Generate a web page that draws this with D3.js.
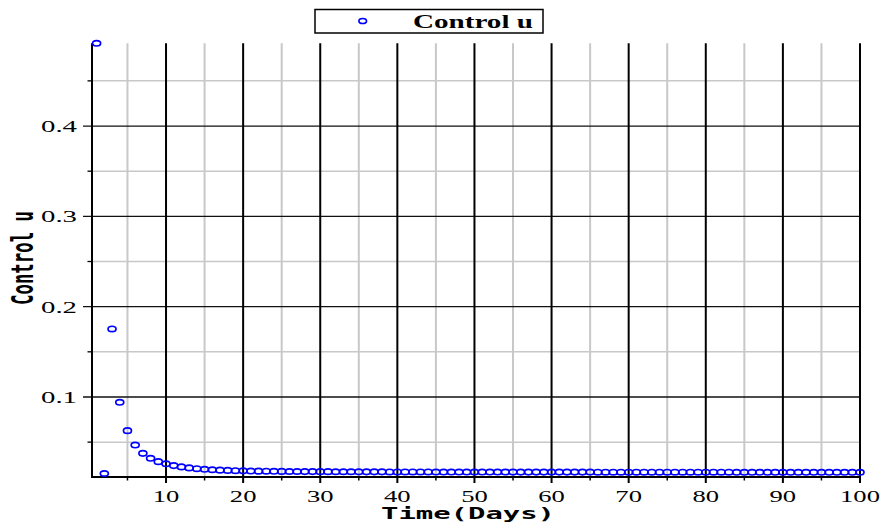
<!DOCTYPE html>
<html>
<head>
<meta charset="utf-8">
<script src="https://cdn.jsdelivr.net/npm/d3@7"></script>
<style>
  html, body { margin: 0; padding: 0; background: #fff; }
  svg { display: block; }
</style>
</head>
<body>
<svg id="chart" width="884" height="523"></svg>
<script>
// ---- data ----
const days = d3.range(1, 101);
const controlU = [
  0.4916, 0.0153, 0.1753, 0.0941, 0.0627, 0.0468, 0.0376, 0.0321, 0.0284, 0.0260,
  0.0240, 0.0226, 0.0215, 0.0206, 0.0199, 0.0194, 0.0190, 0.0187, 0.0184, 0.0182,
  0.0180, 0.0179, 0.0178, 0.0177, 0.0176, 0.0175, 0.0175, 0.0174, 0.0174, 0.0173,
  0.0173, 0.0172, 0.0172, 0.0172, 0.0171, 0.0171, 0.0171, 0.0171, 0.0170, 0.0170,
  0.0170, 0.0170, 0.0170, 0.0170, 0.0169, 0.0169, 0.0169, 0.0169, 0.0169, 0.0169,
  0.0169, 0.0169, 0.0169, 0.0169, 0.0168, 0.0168, 0.0168, 0.0168, 0.0168, 0.0168,
  0.0168, 0.0168, 0.0168, 0.0168, 0.0168, 0.0167, 0.0167, 0.0167, 0.0167, 0.0167,
  0.0167, 0.0167, 0.0167, 0.0167, 0.0167, 0.0167, 0.0167, 0.0167, 0.0167, 0.0167,
  0.0167, 0.0167, 0.0167, 0.0166, 0.0166, 0.0166, 0.0166, 0.0166, 0.0166, 0.0166,
  0.0166, 0.0166, 0.0166, 0.0166, 0.0166, 0.0166, 0.0166, 0.0166, 0.0166, 0.0166
];
const xMajorTicks = [10, 20, 30, 40, 50, 60, 70, 80, 90, 100];
const xMinorTicks = [5, 15, 25, 35, 45, 55, 65, 75, 85, 95];
const yMajorTicks = [0.1, 0.2, 0.3, 0.4];
const yMinorTicks = [0.05, 0.15, 0.25, 0.35, 0.45];
const seriesName = "Control u";
const xTitle = "Time(Days)";
const yTitle = "Control u";

// ---- layout ----
const svg = d3.select("#chart");
const pL = 92, pR = 860, pT = 43.3, pB = 477;
const x = d3.scaleLinear().domain([0.4, 100]).range([pL, pR]);
const y = d3.scaleLinear().domain([0.0114, 0.4916]).range([pB, pT]);
const blue = "#0000ff";
const grey = "#c8c8c8";

// minor vertical grid
svg.append("g").selectAll("line").data(xMinorTicks).join("line")
  .attr("x1", d => x(d)).attr("x2", d => x(d))
  .attr("y1", pT).attr("y2", pB)
  .attr("stroke", grey).attr("stroke-width", 2);
// minor horizontal grid
svg.append("g").selectAll("line").data(yMinorTicks).join("line")
  .attr("x1", pL).attr("x2", pR)
  .attr("y1", d => y(d)).attr("y2", d => y(d))
  .attr("stroke", grey).attr("stroke-width", 1.5);
// major horizontal grid
svg.append("g").selectAll("line").data(yMajorTicks).join("line")
  .attr("x1", pL - 9).attr("x2", pR)
  .attr("y1", d => y(d)).attr("y2", d => y(d))
  .attr("stroke", "#111").attr("stroke-width", 1.3);
// major vertical grid
svg.append("g").selectAll("line").data(xMajorTicks).join("line")
  .attr("x1", d => x(d)).attr("x2", d => x(d))
  .attr("y1", pT).attr("y2", pB + 6)
  .attr("stroke", "#000").attr("stroke-width", 2);

// minor ticks
svg.append("g").selectAll("line").data(yMinorTicks).join("line")
  .attr("x1", pL - 4.5).attr("x2", pL)
  .attr("y1", d => y(d)).attr("y2", d => y(d))
  .attr("stroke", "#000").attr("stroke-width", 1.3);
svg.append("g").selectAll("line").data(xMinorTicks).join("line")
  .attr("x1", d => x(d)).attr("x2", d => x(d))
  .attr("y1", pB).attr("y2", pB + 3.5)
  .attr("stroke", "#000").attr("stroke-width", 1.5);

// axes lines
svg.append("line").attr("x1", pL).attr("x2", pL).attr("y1", pT).attr("y2", pB + 1)
  .attr("stroke", "#000").attr("stroke-width", 2);
svg.append("line").attr("x1", pL - 1).attr("x2", pR + 1).attr("y1", pB).attr("y2", pB)
  .attr("stroke", "#000").attr("stroke-width", 2);

// tick labels
svg.append("g").selectAll("text").data(yMajorTicks).join("text")
  .attr("x", 77).attr("y", d => y(d) + 6)
  .attr("text-anchor", "end")
  .attr("font-family", "Liberation Serif, Times New Roman, serif")
  .attr("font-size", 17.5)
  .attr("textLength", 36).attr("lengthAdjust", "spacingAndGlyphs")
  .text(d => d3.format(".1f")(d));
svg.append("g").selectAll("text").data(xMajorTicks).join("text")
  .attr("x", d => x(d)).attr("y", 501.5)
  .attr("text-anchor", "middle")
  .attr("font-family", "Liberation Serif, Times New Roman, serif")
  .attr("font-size", 17.5)
  .attr("textLength", d => String(d).length * 13.3).attr("lengthAdjust", "spacingAndGlyphs")
  .text(d => d);

// axis titles
svg.append("text")
  .attr("x", 468).attr("y", 519)
  .attr("text-anchor", "middle")
  .attr("font-family", "DejaVu Sans Mono, monospace")
  .attr("font-weight", "bold")
  .attr("font-size", 16)
  .attr("textLength", 174).attr("lengthAdjust", "spacingAndGlyphs")
  .text(xTitle);
svg.append("text")
  .attr("transform", "translate(33,258) rotate(-90) scale(1,1.8)")
  .attr("text-anchor", "middle")
  .attr("font-family", "DejaVu Sans Mono, monospace")
  .attr("font-weight", "bold")
  .attr("font-size", 17)
  .attr("textLength", 94).attr("lengthAdjust", "spacingAndGlyphs")
  .text(yTitle);

// points
svg.append("g").selectAll("ellipse").data(days).join("ellipse")
  .attr("cx", (d) => x(d)).attr("cy", (d, i) => y(controlU[i]))
  .attr("rx", 4).attr("ry", 2.7)
  .attr("fill", "none").attr("stroke", blue).attr("stroke-width", 1.7);

// legend
const lg = svg.append("g");
lg.append("rect").attr("x", 315).attr("y", 9.5).attr("width", 228).attr("height", 23.5)
  .attr("fill", "#fff").attr("stroke", "#000").attr("stroke-width", 1.5);
lg.append("ellipse").attr("cx", 362.7).attr("cy", 21).attr("rx", 3.8).attr("ry", 2.5)
  .attr("fill", "none").attr("stroke", blue).attr("stroke-width", 1.7);
lg.append("text").attr("x", 413).attr("y", 27.7)
  .attr("font-family", "Liberation Serif, Times New Roman, serif")
  .attr("font-weight", "bold").attr("font-size", 18)
  .attr("textLength", 120).attr("lengthAdjust", "spacingAndGlyphs")
  .text(seriesName);
</script>
</body>
</html>
